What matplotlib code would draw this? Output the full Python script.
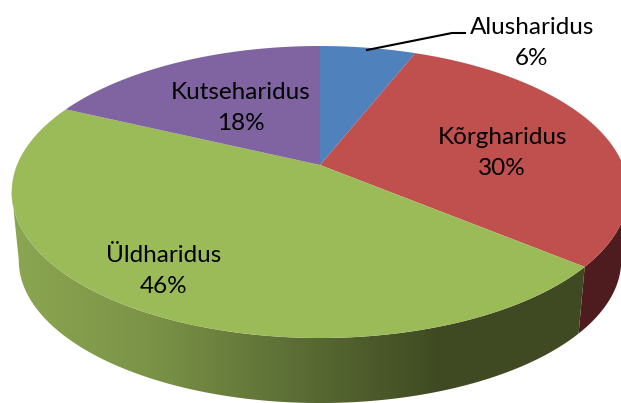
import matplotlib
matplotlib.use("Agg")
import matplotlib.pyplot as plt
from matplotlib.patches import Polygon
from matplotlib.colors import to_rgb
import numpy as np

categories = ["Alusharidus", "Kõrgharidus", "Üldharidus", "Kutseharidus"]
shares = [6, 30, 46, 18]
top_colors = ["#4f81bd", "#c0504d", "#9bbb59", "#8064a2"]

# label centres in pixels, same order as categories
label_xy = [(532, 43), (502, 153), (164, 271), (241, 108)]

# wall shading, left to right in pixels
wall_stops = {
    "Üldharidus": ([15, 150, 310, 440, 621], ["#8ba651", "#7b9347", "#596a33", "#3f4a22", "#3f4a22"]),
    "Kõrgharidus": ([0, 621], ["#4e1c1e", "#4e1c1e"]),
}

# perspective disc, fitted to the picture
CX, CY = 320, 165
A, B, K = 303, 141, -0.185
DEPTH, SHRINK = 69, 0.977


def disc(theta, scale=1.0, drop=0.0):
    u = np.sin(theta)
    v = -np.cos(theta)
    w = 1 + K * v
    return CX + scale * A * u / w, CY + drop + scale * B * v / w


def wall_image(stops_x, stops_c):
    grid = np.arange(621) + 0.5
    rgb = np.array([to_rgb(c) for c in stops_c])
    return np.dstack([np.interp(grid, stops_x, rgb[:, i]) for i in range(3)])


fig = plt.figure(figsize=(6.21, 4.03), dpi=100)
ax = fig.add_axes([0, 0, 1, 1])
ax.axis("off")

edges = np.cumsum([0] + shares) / sum(shares) * 2 * np.pi

# outer walls first, only the two slices that face the viewer show one
for i, name in enumerate(categories):
    if name not in wall_stops:
        continue
    angles = np.linspace(edges[i], edges[i + 1], 400)
    xs, _ = disc(angles)
    # stop the wall at the silhouette so the outline does not cross itself
    start = np.argmax(xs)
    stop = start + np.argmin(xs[start:]) + 1
    angles = angles[start:stop]
    xs, ys = disc(angles)
    xb, yb = disc(angles[::-1], SHRINK, DEPTH)
    outline = Polygon(np.c_[np.r_[xs, xb], np.r_[ys, yb]], closed=True, transform=ax.transData, fc="none", lw=0)
    ax.add_patch(outline)
    img = ax.imshow(wall_image(*wall_stops[name]), extent=(0, 621, 403, 0), aspect="auto", zorder=1)
    img.set_clip_path(outline)

ax.set_xlim(0, 621)
ax.set_ylim(403, 0)

for i, name in enumerate(categories):
    angles = np.linspace(edges[i], edges[i + 1], 200)
    xs, ys = disc(angles)
    ax.fill(np.r_[CX, xs], np.r_[CY, ys], color=top_colors[i], lw=0, zorder=2)

ax.plot([367, 452, 465], [50, 33, 33], color="black", lw=1.5, zorder=3)

for name, share, (x, y) in zip(categories, shares, label_xy):
    ax.text(x, y, f"{name}\n{share}%", ha="center", va="center", family="Lato",
            fontsize=17.5, linespacing=1.6, color="black", zorder=4)

fig.savefig("out.png", dpi=100)
